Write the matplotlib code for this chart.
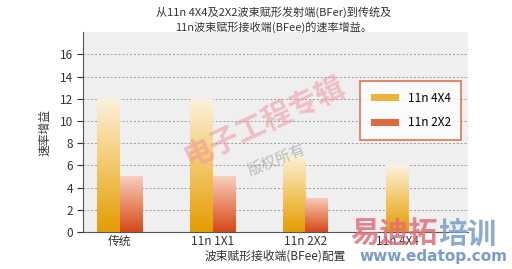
import numpy as np
import matplotlib
matplotlib.use("Agg")
from matplotlib import pyplot as plt
from matplotlib.colors import LinearSegmentedColormap
from matplotlib.patches import Patch

plt.rcParams['font.family'] = ['Noto Sans CJK SC', 'DejaVu Sans']

categories = ["传统", "11n 1X1", "11n 2X2", "11n 4X4"]
series_names = ["11n 4X4", "11n 2X2"]
gain_4x4 = [12, 12, 7, 6]
gain_2x2 = [5, 5, 3.1, None]   # no 2X2 bar for the 4X4 receiver
y_ticks = [0, 2, 4, 6, 8, 10, 12, 14, 16]

title = "从11n 4X4及2X2波束赋形发射端(BFer)到传统及\n11n波束赋形接收端(BFee)的速率增益。"
x_label = "波束赋形接收端(BFee)配置"
y_label = "速率增益"

yellow_cmap = LinearSegmentedColormap.from_list("yel", ["#e49c00", "#f3c86a", "#fdf2de"])
red_cmap = LinearSegmentedColormap.from_list("red", ["#d4481a", "#ea8a66", "#f7cfc2"])

fig = plt.figure(figsize=(5.12, 2.69), dpi=100)
ax = fig.add_axes([0.162, 0.1375, 0.752, 0.743])
ax.set_facecolor("#efefef")

w = 0.243
x = np.arange(len(categories))
x_yel = [xi - w / 2 if g is not None else xi for xi, g in zip(x, gain_2x2)]
x_red = [xi + w / 2 for xi, g in zip(x, gain_2x2) if g is not None]
red_vals = [g for g in gain_2x2 if g is not None]

bars_y = ax.bar(x_yel, gain_4x4, width=w, color="none", edgecolor="none", zorder=3)
bars_r = ax.bar(x_red, red_vals, width=w, color="none", edgecolor="none", zorder=3)

# gradient fill clipped to each bar
grad = np.linspace(0, 1, 256).reshape(-1, 1)
for bars, cmap in [(bars_y, yellow_cmap), (bars_r, red_cmap)]:
    for p in bars:
        x0, y0 = p.get_x(), p.get_y()
        x1, y1 = x0 + p.get_width(), y0 + p.get_height()
        im = ax.imshow(grad, cmap=cmap, origin="lower", aspect="auto",
                       extent=[x0, x1, y0, y1], zorder=3)
        im.set_clip_path(p)

ax.set_xlim(-0.4, 3.76)
ax.set_ylim(0, 18)
ax.set_yticks(y_ticks)
ax.set_xticks(x)
ax.set_xticklabels(categories)
ax.tick_params(axis="x", length=0, labelsize=8.5, colors="#333333", pad=2)
ax.tick_params(axis="y", length=4, direction="out", labelsize=8.5, colors="#333333", pad=3)
ax.yaxis.grid(True, linestyle=(0, (2, 2)), color="#9a9a9a", linewidth=0.7, zorder=1)
ax.set_axisbelow(True)
for s in ["top", "right"]:
    ax.spines[s].set_visible(False)
ax.spines["left"].set_color("#555555")
ax.spines["bottom"].set_color("#555555")

ax.set_xlabel(x_label, fontsize=8.5, color="#333333", labelpad=1)
ax.set_ylabel(y_label, fontsize=8.5, color="#333333", labelpad=6)

fig.text(0.535, 0.975, title, ha="center", va="top", fontsize=8, color="#333333",
         linespacing=1.35)

handles = [Patch(facecolor="#edb43a", edgecolor="none"),
           Patch(facecolor="#df6a3c", edgecolor="none")]
leg = ax.legend(handles, series_names, loc="upper left", bbox_to_anchor=(0.705, 0.785),
                fontsize=8.5, frameon=True, fancybox=False, handlelength=2.4,
                handleheight=0.6, labelspacing=1.0, borderpad=0.9, handletextpad=0.7)
leg.get_frame().set_edgecolor("#e0603c")
leg.get_frame().set_linewidth(1.3)
leg.get_frame().set_facecolor("white")
leg.set_zorder(5)

# watermarks
fig.text(0.518, 0.546, "电子工程专辑", fontsize=21, color="#f08c9c", alpha=0.5,
         rotation=25, ha="center", va="center", fontweight="bold")
fig.text(0.541, 0.405, "版权所有", fontsize=11, color="#999999", alpha=0.6,
         rotation=22, ha="center", va="center")
fig.text(0.855, 0.133, "易迪拓", fontsize=21, color="#e0707a", alpha=0.85,
         ha="right", va="center", fontweight="bold")
fig.text(0.855, 0.133, "培训", fontsize=21, color="#7a9cc8", alpha=0.85,
         ha="left", va="center", fontweight="bold")
fig.text(0.846, 0.048, "www.edatop.com", fontsize=11, color="#7a9cc8",
         ha="center", va="center", fontweight="bold", family=["DejaVu Sans"])

fig.savefig("out.png", dpi=100)
